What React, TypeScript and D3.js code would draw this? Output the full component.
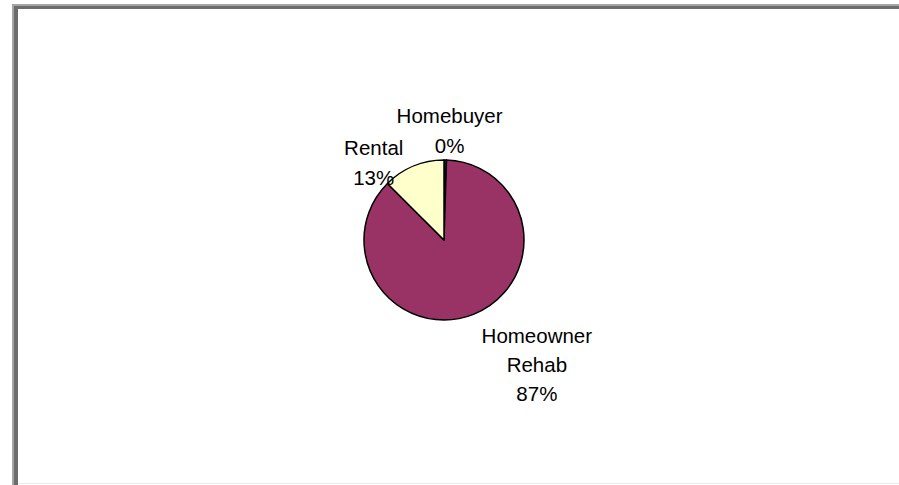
import React from "react";
import * as d3 from "d3";

const categories = ["Homebuyer", "Homeowner Rehab", "Rental"];
const values = [0.5, 87, 12.5];
const labelLines = [["Homebuyer", "0%"], ["Homeowner", "Rehab", "87%"], ["Rental", "13%"]];
const colors = ["#333366", "#993366", "#FFFFCC"];

const W = 899;
const H = 485;
const cx = 444;
const cy = 240;
const R = 80;

// label placement: radial distance and nudges, per slice
const labelLayout = [
  { r: 100, dx: 4, dy: -2, lh: 30 },
  { r: 130, dx: 45, dy: 11, lh: 29 },
  { r: 100, dx: -32, dy: 22, lh: 30 },
];

export default function App() {
  const pie = d3.pie<number>().sort(null).value((d) => d).startAngle(0).endAngle(2 * Math.PI);
  const arcs = pie(values);
  const arc = d3.arc<d3.PieArcDatum<number>>().innerRadius(0).outerRadius(R);

  return (
    <div style={{ position: "fixed", left: 0, top: 0, width: W, height: H, background: "#fff" }}>
      <svg width={W} height={H} style={{ display: "block" }}>
        <rect x={0} y={0} width={W} height={H} fill="#fff" />
        {/* frame */}
        <rect x={12} y={4} width={W - 12} height={2} fill="#a4a4a4" />
        <rect x={14} y={6} width={W - 14} height={3} fill="#6c6c6c" />
        <rect x={12} y={4} width={2} height={H - 4} fill="#a4a4a4" />
        <rect x={14} y={6} width={4} height={H - 6} fill="#6c6c6c" />
        <rect x={18} y={483} width={W - 18} height={1} fill="#ececec" />
        <g transform={`translate(${cx},${cy})`}>
          {arcs.map((a, i) => (
            <path key={categories[i]} d={arc(a) || ""} fill={colors[i]} stroke="#000" strokeWidth={1.5} strokeLinejoin="round" />
          ))}
          {arcs.map((a, i) => {
            const mid = (a.startAngle + a.endAngle) / 2;
            const L = labelLayout[i];
            const lx = Math.sin(mid) * L.r + L.dx;
            const ly = -Math.cos(mid) * L.r + L.dy;
            const lines = labelLines[i];
            const top = ly - ((lines.length - 1) * L.lh) / 2;
            return (
              <text
                key={"l" + i}
                x={lx}
                y={top}
                textAnchor="middle"
                fontFamily="'Liberation Sans', Arial, sans-serif"
                fontSize={20.5}
                fill="#000"
              >
                {lines.map((t, j) => (
                  <tspan key={j} x={lx} y={top + j * L.lh}>
                    {t}
                  </tspan>
                ))}
              </text>
            );
          })}
        </g>
      </svg>
    </div>
  );
}
